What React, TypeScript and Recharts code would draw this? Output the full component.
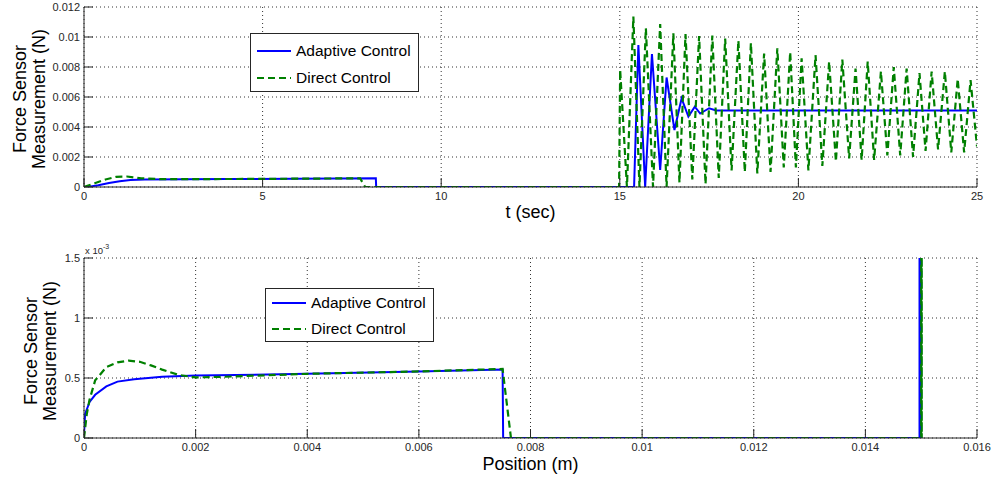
import { LineChart, Line, XAxis, YAxis, CartesianGrid, Legend } from "recharts";

const FONT = "Arial, 'Liberation Sans', sans-serif";
const BLUE = "#0000ff";
const GREEN = "#008000";
const AXIS = "#262626";

// --- top panel: force vs time ---
const timeTicks = [0, 5, 10, 15, 20, 25];
const timeLabels = ["0", "5", "10", "15", "20", "25"];
const forceTicks = [0, 0.002, 0.004, 0.006, 0.008, 0.01, 0.012];
const forceLabels = ["0", "0.002", "0.004", "0.006", "0.008", "0.01", "0.012"];

const adaptiveTime = [
  0, 0.1, 0.4, 0.7, 1.0, 1.3, 1.7, 4, 8.17, 8.18, 15.4, 15.52, 15.71, 15.9,
  16.13, 16.31, 16.53, 16.73, 16.92, 17.1, 17.25, 17.5, 17.7, 20, 25,
];
const adaptiveForce = [
  0, 0, 0.00012, 0.00026, 0.00038, 0.00046, 0.0005, 0.00053, 0.00058, 0, 0,
  0.00947, 0, 0.00887, 0.00113, 0.0073, 0.0038, 0.0059, 0.0047, 0.00536,
  0.0049, 0.00525, 0.0051, 0.0051, 0.0051,
];

const directTime = [
  0, 0.3, 0.6, 0.9, 1.2, 1.6, 2.2, 5, 7.73, 7.87, 14.98, 15.01, 15.2, 15.38,
  15.55, 15.73, 15.93, 16.13, 16.31, 16.5, 16.67, 16.84, 17.03, 17.22, 17.4,
  17.59, 17.77, 17.95, 18.13, 18.32, 18.5, 18.67, 18.85, 19.04, 19.22, 19.41,
  19.59, 19.77, 19.93, 20.09, 20.28, 20.48, 20.67, 20.86, 21.05, 21.23, 21.42,
  21.6, 21.77, 21.94, 22.12, 22.31, 22.49, 22.67, 22.85, 23.03, 23.21, 23.39,
  23.56, 23.73, 23.91, 24.1, 24.28, 24.46, 24.64, 24.82, 25,
];
const directForce = [
  0, 0.00025, 0.0005, 0.00068, 0.0007, 0.00058, 0.00052, 0.00054, 0.00058, 0,
  0, 0.0078, 0, 0.01136, 0, 0.01058, 0, 0.01087, 0, 0.01024, 0.0003, 0.0102,
  0.0005, 0.01007, 0.0002, 0.0101, 0.0006, 0.0099, 0.0011, 0.00976, 0.001,
  0.0096, 0.0009, 0.0089, 0.001, 0.00925, 0.0013, 0.009, 0.0013, 0.00858,
  0.0011, 0.0088, 0.0014, 0.00836, 0.0017, 0.0085, 0.0019, 0.0079, 0.0018,
  0.00836, 0.0018, 0.0077, 0.0021, 0.008, 0.0021, 0.0079, 0.002, 0.0076,
  0.0024, 0.0077, 0.0025, 0.0077, 0.0023, 0.0072, 0.0023, 0.00713, 0.0027,
];

// --- bottom panel: force vs position ---
const posTicks = [0, 0.002, 0.004, 0.006, 0.008, 0.01, 0.012, 0.014, 0.016];
const posLabels = ["0", "0.002", "0.004", "0.006", "0.008", "0.01", "0.012", "0.014", "0.016"];
const smallForceTicks = [0, 0.0005, 0.001, 0.0015];
const smallForceLabels = ["0", "0.5", "1", "1.5"];

const adaptivePos = [
  0, 0.00002, 0.0001, 0.0002, 0.0004, 0.0006, 0.0009, 0.0014, 0.002, 0.004,
  0.006, 0.0075, 0.00751, 0.01497, 0.01497, 0.014985, 0.01499, 0.015,
];
const adaptivePosForce = [
  0.00003, 0.0002, 0.0003, 0.00036, 0.00043, 0.00047, 0.00049, 0.00051,
  0.00052, 0.000535, 0.000555, 0.00057, 0, 0, 0.0094, 0, 0.0073, 0.0051,
];
const directPos = [
  0, 0.00005, 0.0001, 0.0002, 0.0004, 0.0006, 0.0008, 0.001, 0.0012, 0.0014,
  0.0017, 0.002, 0.0025, 0.004, 0.006, 0.0075, 0.00765, 0.015, 0.015, 0.01501,
  0.01501, 0.015,
];
const directPosForce = [
  0, 0.0002, 0.00032, 0.00048, 0.00059, 0.00063, 0.000645, 0.000635, 0.000605,
  0.00057, 0.000525, 0.000505, 0.00051, 0.000535, 0.000555, 0.000575, 0, 0,
  0.0113, 0, 0.0102, 0.0027,
];

const seriesNames = ["Adaptive Control", "Direct Control"];

function zip(xs: number[], ys: number[]) {
  return xs.map((x, i) => ({ x, y: ys[i] }));
}

const tickStyle = { fontSize: 11, fill: AXIS, fontFamily: FONT };

function LegendBox({ height, rows }: { height: number; rows: number[] }) {
  const styles = [
    { color: BLUE, dash: undefined },
    { color: GREEN, dash: "7 4" },
  ];
  return (
    <div
      style={{
        boxSizing: "border-box",
        width: 169,
        height,
        border: `1px solid ${AXIS}`,
        background: "#fff",
        position: "relative",
        fontFamily: FONT,
        fontSize: 15.5,
      }}
    >
      {seriesNames.map((name, i) => (
        <div
          key={name}
          style={{
            position: "absolute",
            left: 6,
            top: rows[i] - 10,
            height: 20,
            display: "flex",
            alignItems: "center",
          }}
        >
          <svg width={34} height={6}>
            <line
              x1={0}
              x2={34}
              y1={3}
              y2={3}
              stroke={styles[i].color}
              strokeWidth={2}
              strokeDasharray={styles[i].dash}
            />
          </svg>
          <span style={{ marginLeft: 5, color: "#000", whiteSpace: "nowrap" }}>{name}</span>
        </div>
      ))}
    </div>
  );
}

type PanelProps = {
  top: number;
  height: number;
  marginTop: number;
  xAxisHeight: number;
  xDomain: [number, number];
  xTicks: number[];
  xLabels: string[];
  yDomain: [number, number];
  yTicks: number[];
  yLabels: string[];
  adaptive: { x: number; y: number }[];
  direct: { x: number; y: number }[];
  xTitle: string;
  xTitleDy: number;
  yTitleX: [number, number];
  yTitleDy: number;
  multiplier?: boolean;
  legendLeft: number;
  legendTop: number;
  legendHeight: number;
  legendRows: number[];
};

function Panel(p: PanelProps) {
  const xLabel = (props: any) => {
    const vb = props.viewBox || { x: 84, y: p.height - p.xAxisHeight, width: 893 };
    return (
      <text
        x={vb.x + vb.width / 2}
        y={vb.y + p.xTitleDy}
        textAnchor="middle"
        fontFamily={FONT}
        fontSize={18}
        fill="#000"
      >
        {p.xTitle}
      </text>
    );
  };
  const yLabel = (props: any) => {
    const vb = props.viewBox || { x: 0, y: p.marginTop, height: p.height - p.marginTop - p.xAxisHeight };
    const cy = vb.y + vb.height / 2 + p.yTitleDy;
    return (
      <g fontFamily={FONT} fill="#000">
        <text x={p.yTitleX[0]} y={cy} fontSize={18} textAnchor="middle" transform={`rotate(-90, ${p.yTitleX[0]}, ${cy})`}>
          Force Sensor
        </text>
        <text x={p.yTitleX[1]} y={cy} fontSize={18} textAnchor="middle" transform={`rotate(-90, ${p.yTitleX[1]}, ${cy})`}>
          Measurement (N)
        </text>
        {p.multiplier && (
          <text x={85} y={vb.y - 4} fontSize={9.5} fill={AXIS}>
            x 10
            <tspan dy={-5} fontSize={7}>
              -3
            </tspan>
          </text>
        )}
      </g>
    );
  };

  return (
    <div style={{ position: "absolute", left: 0, top: p.top }}>
      <LineChart
        width={995}
        height={p.height}
        margin={{ top: p.marginTop, right: 18, bottom: 0, left: 0 }}
      >
        <CartesianGrid xAxisId="b" yAxisId="l" stroke="#333" strokeDasharray="1 3" />
        <XAxis
          xAxisId="b"
          dataKey="x"
          type="number"
          domain={p.xDomain}
          ticks={p.xTicks}
          interval={0}
          allowDataOverflow
          height={p.xAxisHeight}
          tickSize={-9}
          tickMargin={14}
          tick={tickStyle}
          tickFormatter={(v: number) => p.xLabels[p.xTicks.indexOf(v)]}
          stroke={AXIS}
          label={xLabel}
        />
        <XAxis
          xAxisId="t"
          orientation="top"
          type="number"
          domain={p.xDomain}
          ticks={p.xTicks}
          interval={0}
          height={0}
          tickSize={-9}
          tick={false}
          stroke={AXIS}
        />
        <YAxis
          yAxisId="l"
          type="number"
          domain={p.yDomain}
          ticks={p.yTicks}
          interval={0}
          allowDataOverflow
          width={84}
          tickSize={-9}
          tickMargin={13}
          tick={tickStyle}
          tickFormatter={(v: number) => p.yLabels[p.yTicks.indexOf(v)]}
          stroke={AXIS}
          label={yLabel}
        />
        <YAxis
          yAxisId="r"
          orientation="right"
          type="number"
          domain={p.yDomain}
          ticks={p.yTicks}
          interval={0}
          width={0}
          tickSize={-9}
          tick={false}
          stroke={AXIS}
        />
        <Legend
          layout="horizontal"
          verticalAlign="middle"
          align="center"
          wrapperStyle={{ left: p.legendLeft, top: p.legendTop, width: 169, height: p.legendHeight }}
          content={() => <LegendBox height={p.legendHeight} rows={p.legendRows} />}
        />
        <Line
          xAxisId="b"
          yAxisId="l"
          data={p.adaptive}
          dataKey="y"
          name={seriesNames[0]}
          type="linear"
          stroke={BLUE}
          strokeWidth={2}
          dot={false}
          isAnimationActive={false}
        />
        <Line
          xAxisId="b"
          yAxisId="l"
          data={p.direct}
          dataKey="y"
          name={seriesNames[1]}
          type="linear"
          stroke={GREEN}
          strokeWidth={2.2}
          strokeDasharray="7 4"
          dot={false}
          isAnimationActive={false}
        />
      </LineChart>
    </div>
  );
}

export default function App() {
  return (
    <div
      style={{
        position: "absolute",
        left: 0,
        top: 0,
        width: 995,
        height: 481,
        background: "#fff",
        overflow: "hidden",
      }}
    >
      <Panel
        top={0}
        height={240}
        marginTop={7}
        xAxisHeight={53}
        xDomain={[0, 25]}
        xTicks={timeTicks}
        xLabels={timeLabels}
        yDomain={[0, 0.012]}
        yTicks={forceTicks}
        yLabels={forceLabels}
        adaptive={zip(adaptiveTime, adaptiveForce)}
        direct={zip(directTime, directForce)}
        xTitle="t (sec)"
        xTitleDy={31}
        yTitleX={[26, 45]}
        yTitleDy={2}
        legendLeft={250}
        legendTop={33}
        legendHeight={59}
        legendRows={[17, 44]}
      />
      <Panel
        top={240}
        height={241}
        marginTop={18}
        xAxisHeight={43}
        xDomain={[0, 0.016]}
        xTicks={posTicks}
        xLabels={posLabels}
        yDomain={[0, 0.0015]}
        yTicks={smallForceTicks}
        yLabels={smallForceLabels}
        adaptive={zip(adaptivePos, adaptivePosForce)}
        direct={zip(directPos, directPosForce)}
        xTitle="Position (m)"
        xTitleDy={32}
        yTitleX={[36.5, 55.5]}
        yTitleDy={3}
        multiplier
        legendLeft={265}
        legendTop={48}
        legendHeight={54}
        legendRows={[14, 40]}
      />
    </div>
  );
}
